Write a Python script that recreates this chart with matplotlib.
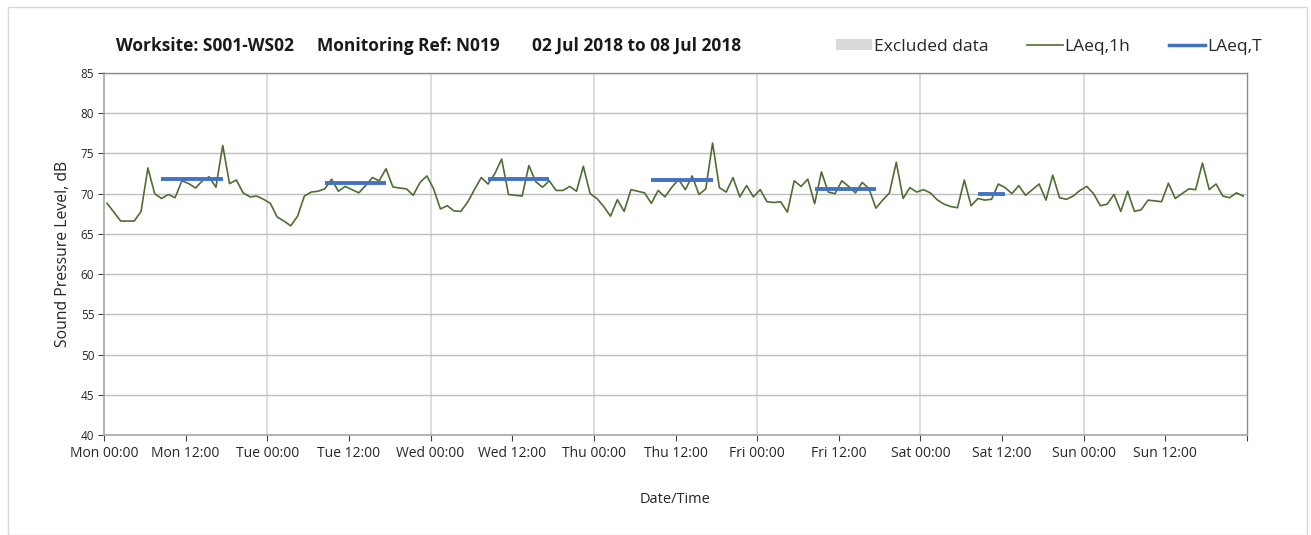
import numpy as np
import pandas as pd
import matplotlib
matplotlib.use("Agg")
import matplotlib.pyplot as plt
import matplotlib.dates as mdates
from matplotlib.patches import Patch, Rectangle
from matplotlib.lines import Line2D

plt.rcParams['font.family'] = ['Open Sans', 'DejaVu Sans']

# ---- data ----
start_time = "2018-07-02 00:27"
laeq_1h = [
    68.8, 67.7, 66.6, 66.6, 66.6, 67.8, 73.2, 70.0, 69.4, 69.9,
    69.5, 71.6, 71.25, 70.7, 71.6, 72.1, 70.8, 76.0, 71.25, 71.7,
    70.1, 69.6, 69.7, 69.3, 68.8, 67.1, 66.6, 66.0, 67.2, 69.7,
    70.2, 70.3, 70.6, 71.8, 70.3, 70.9, 70.5, 70.1, 71.0, 72.0,
    71.6, 73.1, 70.85, 70.7, 70.6, 69.8, 71.4, 72.2, 70.6, 68.1,
    68.5, 67.85, 67.8, 68.95, 70.5, 72.0, 71.2, 72.5, 74.3, 69.9,
    69.8, 69.7, 73.5, 71.5, 70.8, 71.6, 70.4, 70.4, 70.9, 70.3,
    73.4, 70.0, 69.4, 68.4, 67.2, 69.25, 67.8, 70.5, 70.3, 70.1,
    68.8, 70.4, 69.6, 70.8, 71.75, 70.5, 72.2, 69.9, 70.6, 76.3,
    70.75, 70.2, 72.0, 69.6, 71.0, 69.6, 70.5, 69.0, 68.9, 69.0,
    67.7, 71.6, 70.9, 71.8, 68.75, 72.7, 70.2, 70.0, 71.6, 70.9,
    70.1, 71.4, 70.6, 68.2, 69.2, 70.1, 73.9, 69.4, 70.75, 70.2,
    70.5, 70.1, 69.25, 68.7, 68.4, 68.25, 71.7, 68.5, 69.4, 69.2,
    69.3, 71.2, 70.75, 70.0, 71.0, 69.8, 70.5, 71.2, 69.2, 72.3,
    69.5, 69.3, 69.7, 70.4, 70.9, 70.0, 68.5, 68.7, 69.9, 67.8,
    70.3, 67.8, 68.0, 69.2, 69.1, 69.0, 71.3, 69.4, 70.0, 70.6,
    70.5, 73.8, 70.5, 71.2, 69.7, 69.5, 70.1, 69.7,
]
laeqT_start_idx = [8, 32, 56, 80, 104, 128]
laeqT_end_idx = [17, 41, 65, 89, 113, 132]
laeqT_values = [71.8, 71.3, 71.8, 71.7, 70.6, 70.0]

title_parts = ["Worksite: S001-WS02", "Monitoring Ref: N019", "02 Jul 2018 to 08 Jul 2018"]
y_ticks = [40, 45, 50, 55, 60, 65, 70, 75, 80, 85]

times = pd.date_range(start_time, periods=len(laeq_1h), freq="h")
x_start = pd.Timestamp("2018-07-02 00:00")
x_end = pd.Timestamp("2018-07-09 00:00")

# ---- figure ----
W, H = 1311, 535
fig = plt.figure(figsize=(W / 100, H / 100), dpi=100)
fig.patches.append(Rectangle((8 / W, 0.0), 1299 / W, 1 - 7 / H,
                             transform=fig.transFigure, fill=False,
                             edgecolor='#D9D9D9', linewidth=1.0))
ax = fig.add_axes([104 / W, 1 - 435 / H, (1247 - 104) / W, (435 - 73) / H])

green = '#4E6E31'
blue = '#4472C4'

ax.plot(times, laeq_1h, color=green, linewidth=1.2, zorder=3)
for s, e, v in zip(laeqT_start_idx, laeqT_end_idx, laeqT_values):
    seg = times[s:e + 1]
    ax.plot(seg, [v] * len(seg), color=blue, linewidth=2.8, zorder=4,
            solid_capstyle='butt')

ax.set_xlim(x_start, x_end)
ax.set_ylim(40, 85)
ax.set_yticks(y_ticks)

tick_times = pd.date_range(x_start, x_end, freq="12h")
ax.set_xticks(tick_times)
labels = [t.strftime('%a %H:%M') for t in tick_times]
labels[-1] = ''
ax.set_xticklabels(labels)
day_times = pd.date_range(x_start, x_end, freq="24h")
for d in day_times[1:-1]:
    ax.axvline(d, color='#D9D9D9', linewidth=1.3, zorder=1)
for yv in y_ticks:
    ax.axhline(yv, color='#BFBFBF', linewidth=1.0, zorder=1)

for side in ['left', 'bottom']:
    ax.spines[side].set_color('#A6A6A6')
    ax.spines[side].set_linewidth(1.2)
for side in ['top', 'right']:
    ax.spines[side].set_color('#8C8C8C')
    ax.spines[side].set_linewidth(1.0)

ax.tick_params(axis='both', which='major', colors='#404040',
               length=4, width=0.8, direction='out', labelcolor='#262626')
ax.tick_params(axis='y', pad=3, labelsize=8.5)
ax.tick_params(axis='x', pad=4, labelsize=10)

ax.set_ylabel("Sound Pressure Level, dB", fontsize=11.3, color='#262626', labelpad=7)
ax.set_xlabel("Date/Time", fontsize=10.5, color='#262626', labelpad=22)

for xp, part in zip([116, 317, 532], title_parts):
    fig.text(xp / W, 1 - 46 / H, part, fontsize=12.5, fontweight='bold',
             color='#1a1a1a', ha='left', va='center')

handles = [Patch(facecolor='#D9D9D9', edgecolor='none', label='Excluded data'),
           Line2D([0], [0], color=green, linewidth=1.2, label='LAeq,1h'),
           Line2D([0], [0], color=blue, linewidth=2.5, label='LAeq,T')]
fig.legend(handles=handles, loc='center left', bbox_to_anchor=(820 / W, 1 - 47 / H),
           ncol=3, frameon=False, fontsize=12.5, handlelength=2.1, handletextpad=0.1,
           columnspacing=2.2, labelcolor='#262626', handleheight=0.6)

fig.savefig("out.png", dpi=100)
